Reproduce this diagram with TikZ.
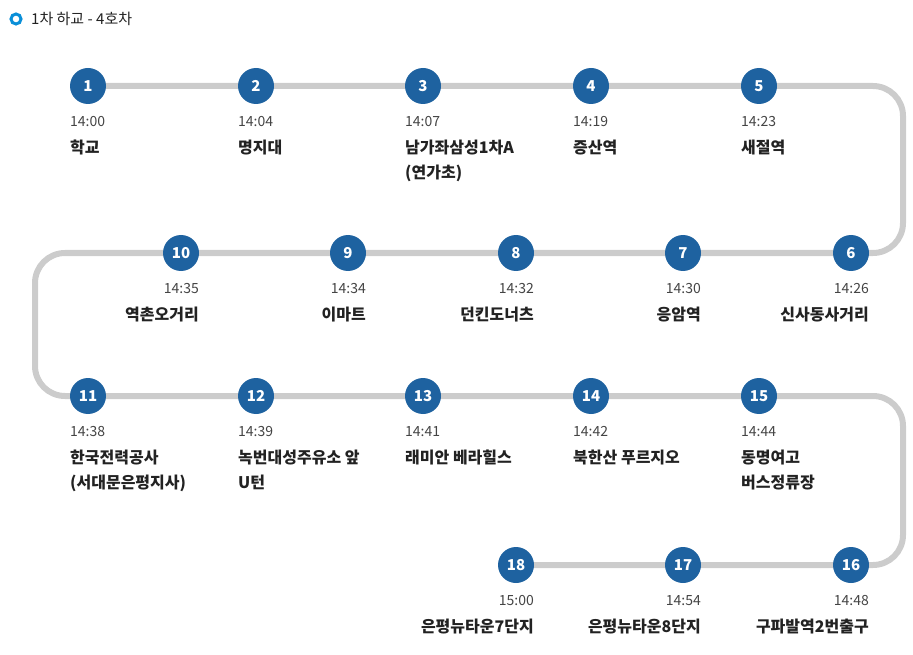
\documentclass[tikz,border=0pt]{standalone}
\usepackage{fontspec}
\setmainfont{Noto Sans CJK KR}
\usetikzlibrary{positioning}
\definecolor{stopblue}{HTML}{1E62A0}
\definecolor{ringblue}{HTML}{0A8FD8}
\definecolor{trackgray}{HTML}{CCCCCC}
\definecolor{textdark}{HTML}{222222}
\definecolor{timegray}{HTML}{444444}

\begin{document}
\begin{tikzpicture}[x=1pt, y=-1pt]
    \tikzstyle{stop} = [circle, fill=stopblue, text=white, minimum size=36pt,
	inner sep=0pt, font=\fontsize{15}{15}\selectfont\bfseries]
    \tikzstyle{time} = [inner sep=0pt, text=timegray, font=\fontsize{14}{14}\selectfont]
    \tikzstyle{place} = [inner sep=0pt, text=textdark, align=left,
	font=\fontsize{16}{25}\selectfont\bfseries]

	\useasboundingbox (0,0) rectangle (913,655);

	% title
	\draw[ringblue, line width=3pt] (16,19) circle (5pt);
	\node[anchor=west, inner sep=0pt, text=textdark,
		font=\fontsize{15}{15}\selectfont] (title) at (31,19) {1차 하교 - 4호차};

	% track
	\draw[trackgray, line width=6pt, rounded corners=30pt]
		(88,86) -| (903,253) -| (35,396) -| (903,565) -- (516,565);

	% stops, left aligned rows
	\foreach \n/\x/\y/\t/\p in {
		1/88/86/14:00/학교,
		2/256/86/14:04/명지대,
		3/423/86/14:07/{남가좌삼성1차A\\(연가초)},
		4/591/86/14:19/증산역,
		5/759/86/14:23/새절역,
		11/88/396/14:38/{한국전력공사\\(서대문은평지사)},
		12/256/396/14:39/{녹번대성주유소 앞\\U턴},
		13/423/396/14:41/래미안 베라힐스,
		14/591/396/14:42/북한산 푸르지오,
		15/759/396/14:44/{동명여고\\버스정류장}}
	{
		\node[stop] (s\n) at (\x,\y) {\n};
		\node[time, anchor=north west] (t\n) at ([xshift=-18pt, yshift=-30pt]s\n.center) {\t};
		\node[place, anchor=north west] (p\n) at ([yshift=-13pt]t\n.south west) {\p};
	}

	% stops, right aligned rows
	\foreach \n/\x/\y/\t/\p in {
		6/851/253/14:26/신사동사거리,
		7/683/253/14:30/응암역,
		8/516/253/14:32/던킨도너츠,
		9/348/253/14:34/이마트,
		10/181/253/14:35/역촌오거리,
		16/851/565/14:48/구파발역2번출구,
		17/683/565/14:54/은평뉴타운8단지,
		18/516/565/15:00/은평뉴타운7단지}
	{
		\node[stop] (s\n) at (\x,\y) {\n};
		\node[time, anchor=north east] (t\n) at ([xshift=18pt, yshift=-30pt]s\n.center) {\t};
		\node[place, anchor=north east] (p\n) at ([yshift=-13pt]t\n.south east) {\p};
	}
\end{tikzpicture}
\end{document}
